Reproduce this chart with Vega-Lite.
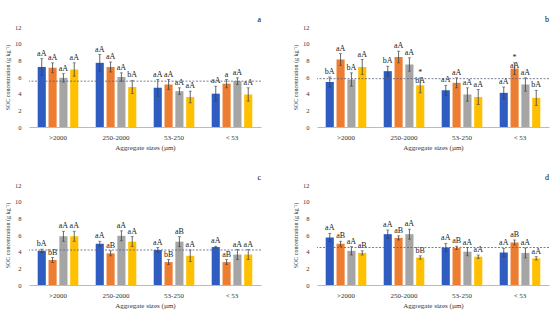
{
  "$schema": "https://vega.github.io/schema/vega-lite/v6.json",
  "background": "white",
  "padding": {"left": 4, "top": 16, "right": 4, "bottom": 2},
  "config": {
    "font": "Liberation Serif",
    "view": {"stroke": null},
    "axis": {"grid": false, "labelFont": "Liberation Serif", "titleFont": "Liberation Serif", "labelColor": "#333", "titleColor": "#333", "titleFontWeight": "normal"},
    "axisY": {"labelOverlap": false, "domain": false, "ticks": false, "labelFontSize": 6.5, "titleFontSize": 6, "labelPadding": 8, "titlePadding": 4}
  },
  "data": {"values": [
    {"p":"a","s":">2000","t":"T1","v":7.2,"lo":6.2,"hi":8.2,"l":"aA","r":5.5},
    {"p":"a","s":">2000","t":"T2","v":7.1,"lo":6.5,"hi":7.7,"l":"aA","r":5.5},
    {"p":"a","s":">2000","t":"T3","v":5.9,"lo":5.4,"hi":6.4,"l":"aA","r":5.5},
    {"p":"a","s":">2000","t":"T4","v":6.9,"lo":6.1,"hi":7.7,"l":"aA","r":5.5},
    {"p":"a","s":"250-2000","t":"T1","v":7.7,"lo":6.7,"hi":8.7,"l":"aA","r":5.5},
    {"p":"a","s":"250-2000","t":"T2","v":7.2,"lo":6.6,"hi":7.8,"l":"aA","r":5.5},
    {"p":"a","s":"250-2000","t":"T3","v":6.0,"lo":5.5,"hi":6.5,"l":"aA","r":5.5},
    {"p":"a","s":"250-2000","t":"T4","v":4.8,"lo":4.0,"hi":5.6,"l":"bA","r":5.5},
    {"p":"a","s":"53-250","t":"T1","v":4.7,"lo":3.7,"hi":5.7,"l":"aA","r":5.5},
    {"p":"a","s":"53-250","t":"T2","v":5.1,"lo":4.5,"hi":5.7,"l":"aA","r":5.5},
    {"p":"a","s":"53-250","t":"T3","v":4.3,"lo":3.9,"hi":4.7,"l":"aA","r":5.5},
    {"p":"a","s":"53-250","t":"T4","v":3.6,"lo":2.9,"hi":4.3,"l":"aA","r":5.5},
    {"p":"a","s":"< 53","t":"T1","v":4.0,"lo":3.1,"hi":4.9,"l":"aA","r":5.5},
    {"p":"a","s":"< 53","t":"T2","v":5.2,"lo":4.7,"hi":5.7,"l":"a","r":5.5},
    {"p":"a","s":"< 53","t":"T3","v":5.5,"lo":5.1,"hi":5.9,"l":"aA","r":5.5},
    {"p":"a","s":"< 53","t":"T4","v":3.9,"lo":3.1,"hi":4.7,"l":"aA","r":5.5},
    {"p":"b","s":">2000","t":"T1","v":5.4,"lo":4.8,"hi":6.0,"l":"bA","r":5.8},
    {"p":"b","s":">2000","t":"T2","v":8.1,"lo":7.4,"hi":8.8,"l":"aA","r":5.8},
    {"p":"b","s":">2000","t":"T3","v":5.7,"lo":4.9,"hi":6.5,"l":"bA","r":5.8},
    {"p":"b","s":">2000","t":"T4","v":7.2,"lo":6.3,"hi":8.1,"l":"aA","r":5.8},
    {"p":"b","s":"250-2000","t":"T1","v":6.7,"lo":6.1,"hi":7.3,"l":"bA","r":5.8},
    {"p":"b","s":"250-2000","t":"T2","v":8.4,"lo":7.7,"hi":9.1,"l":"aA","r":5.8},
    {"p":"b","s":"250-2000","t":"T3","v":7.5,"lo":6.7,"hi":8.3,"l":"aA","r":5.8},
    {"p":"b","s":"250-2000","t":"T4","v":5.0,"lo":4.1,"hi":5.9,"l":"*\nbA","r":5.8},
    {"p":"b","s":"53-250","t":"T1","v":4.4,"lo":3.8,"hi":5.0,"l":"aA","r":5.8},
    {"p":"b","s":"53-250","t":"T2","v":5.3,"lo":4.7,"hi":5.9,"l":"aA","r":5.8},
    {"p":"b","s":"53-250","t":"T3","v":3.9,"lo":3.1,"hi":4.7,"l":"aA","r":5.8},
    {"p":"b","s":"53-250","t":"T4","v":3.6,"lo":2.7,"hi":4.5,"l":"aA","r":5.8},
    {"p":"b","s":"< 53","t":"T1","v":4.1,"lo":3.4,"hi":4.8,"l":"aA","r":5.8},
    {"p":"b","s":"< 53","t":"T2","v":7.0,"lo":6.3,"hi":7.7,"l":"*\naA","r":5.8},
    {"p":"b","s":"< 53","t":"T3","v":5.1,"lo":4.3,"hi":5.9,"l":"aA","r":5.8},
    {"p":"b","s":"< 53","t":"T4","v":3.5,"lo":2.6,"hi":4.4,"l":"bA","r":5.8},
    {"p":"c","s":">2000","t":"T1","v":4.1,"lo":3.9,"hi":4.3,"l":"bA","r":4.2},
    {"p":"c","s":">2000","t":"T2","v":3.0,"lo":2.7,"hi":3.3,"l":"bB","r":4.2},
    {"p":"c","s":">2000","t":"T3","v":5.85,"lo":5.25,"hi":6.45,"l":"aA","r":4.2},
    {"p":"c","s":">2000","t":"T4","v":5.85,"lo":5.25,"hi":6.45,"l":"aA","r":4.2},
    {"p":"c","s":"250-2000","t":"T1","v":4.95,"lo":4.65,"hi":5.25,"l":"aA","r":4.2},
    {"p":"c","s":"250-2000","t":"T2","v":3.8,"lo":3.5,"hi":4.1,"l":"aB","r":4.2},
    {"p":"c","s":"250-2000","t":"T3","v":5.9,"lo":5.3,"hi":6.5,"l":"aA","r":4.2},
    {"p":"c","s":"250-2000","t":"T4","v":5.2,"lo":4.6,"hi":5.8,"l":"aA","r":4.2},
    {"p":"c","s":"53-250","t":"T1","v":4.2,"lo":3.9,"hi":4.5,"l":"aA","r":4.2},
    {"p":"c","s":"53-250","t":"T2","v":2.75,"lo":2.45,"hi":3.05,"l":"bB","r":4.2},
    {"p":"c","s":"53-250","t":"T3","v":5.2,"lo":4.6,"hi":5.8,"l":"aB","r":4.2},
    {"p":"c","s":"53-250","t":"T4","v":3.5,"lo":2.8,"hi":4.2,"l":"aA","r":4.2},
    {"p":"c","s":"< 53","t":"T1","v":4.55,"lo":4.45,"hi":4.65,"l":"aA","r":4.2},
    {"p":"c","s":"< 53","t":"T2","v":2.75,"lo":2.45,"hi":3.05,"l":"aB","r":4.2},
    {"p":"c","s":"< 53","t":"T3","v":3.65,"lo":3.05,"hi":4.25,"l":"aA","r":4.2},
    {"p":"c","s":"< 53","t":"T4","v":3.65,"lo":3.05,"hi":4.25,"l":"aA","r":4.2},
    {"p":"d","s":">2000","t":"T1","v":5.7,"lo":5.2,"hi":6.2,"l":"aA","r":4.5},
    {"p":"d","s":">2000","t":"T2","v":4.95,"lo":4.65,"hi":5.25,"l":"aB","r":4.5},
    {"p":"d","s":">2000","t":"T3","v":4.1,"lo":3.6,"hi":4.6,"l":"aA","r":4.5},
    {"p":"d","s":">2000","t":"T4","v":3.85,"lo":3.6,"hi":4.1,"l":"aB","r":4.5},
    {"p":"d","s":"250-2000","t":"T1","v":6.1,"lo":5.6,"hi":6.6,"l":"aA","r":4.5},
    {"p":"d","s":"250-2000","t":"T2","v":5.65,"lo":5.4,"hi":5.9,"l":"aB","r":4.5},
    {"p":"d","s":"250-2000","t":"T3","v":6.1,"lo":5.5,"hi":6.7,"l":"aA","r":4.5},
    {"p":"d","s":"250-2000","t":"T4","v":3.3,"lo":3.1,"hi":3.5,"l":"bB","r":4.5},
    {"p":"d","s":"53-250","t":"T1","v":4.5,"lo":4.0,"hi":5.0,"l":"aA","r":4.5},
    {"p":"d","s":"53-250","t":"T2","v":4.45,"lo":4.25,"hi":4.65,"l":"aB","r":4.5},
    {"p":"d","s":"53-250","t":"T3","v":4.0,"lo":3.5,"hi":4.5,"l":"aA","r":4.5},
    {"p":"d","s":"53-250","t":"T4","v":3.4,"lo":3.2,"hi":3.6,"l":"aA","r":4.5},
    {"p":"d","s":"< 53","t":"T1","v":3.9,"lo":3.4,"hi":4.4,"l":"aA","r":4.5},
    {"p":"d","s":"< 53","t":"T2","v":5.1,"lo":4.8,"hi":5.4,"l":"aB","r":4.5},
    {"p":"d","s":"< 53","t":"T3","v":3.85,"lo":3.25,"hi":4.45,"l":"aA","r":4.5},
    {"p":"d","s":"< 53","t":"T4","v":3.2,"lo":3.0,"hi":3.4,"l":"aA","r":4.5}
  ]},
  "facet": {"field": "p", "type": "nominal", "header": {"title": null, "labelOrient": "top", "labelAnchor": "end", "labelFont": "Liberation Serif", "labelFontSize": 8, "labelPadding": 0}},
  "columns": 2,
  "spacing": {"row": 24, "column": 30},
  "resolve": {"axis": {"x": "independent", "y": "independent"}},
  "spec": {
    "width": 232,
    "height": 100,
    "encoding": {
      "x": {"field": "s", "type": "nominal", "sort": [">2000", "250-2000", "53-250", "< 53"],
            "scale": {"paddingInner": 0.3, "paddingOuter": 0.15},
            "axis": {"title": "Aggregate sizes (µm)", "labelAngle": 0, "ticks": false, "domainColor": "#bbb", "labelFontSize": 7, "titleFontSize": 7, "labelPadding": 6, "titlePadding": 3}},
      "xOffset": {"field": "t", "type": "nominal", "scale": {"paddingInner": 0.25, "paddingOuter": 0}}
    },
    "layer": [
      {
        "mark": {"type": "bar"},
        "encoding": {
          "y": {"field": "v", "type": "quantitative", "scale": {"domain": [0, 12], "nice": false},
                "axis": {"title": "SOC concentration (g kg⁻¹)", "values": [0, 2, 4, 6, 8, 10, 12], "tickCount": 12}},
          "color": {"field": "t", "type": "nominal", "legend": null,
                    "scale": {"domain": ["T1", "T2", "T3", "T4"], "range": ["#2E5CC0", "#ED7D31", "#A5A5A5", "#FFC000"]}}
        }
      },
      {
        "mark": {"type": "rule", "color": "#404040", "strokeWidth": 0.8},
        "encoding": {"y": {"field": "lo", "type": "quantitative", "axis": {"title": "SOC concentration (g kg⁻¹)", "values": [0, 2, 4, 6, 8, 10, 12], "tickCount": 12}}, "y2": {"field": "hi"}}
      },
      {
        "mark": {"type": "tick", "color": "#404040", "size": 3, "thickness": 0.8},
        "encoding": {"y": {"field": "lo", "type": "quantitative", "axis": {"title": "SOC concentration (g kg⁻¹)", "values": [0, 2, 4, 6, 8, 10, 12], "tickCount": 12}}}
      },
      {
        "mark": {"type": "tick", "color": "#404040", "size": 3, "thickness": 0.8},
        "encoding": {"y": {"field": "hi", "type": "quantitative", "axis": {"title": "SOC concentration (g kg⁻¹)", "values": [0, 2, 4, 6, 8, 10, 12], "tickCount": 12}}}
      },
      {
        "mark": {"type": "text", "baseline": "bottom", "dy": -1, "fontSize": 8, "color": "#222", "lineBreak": "\n", "lineHeight": 8},
        "encoding": {"y": {"field": "hi", "type": "quantitative", "axis": {"title": "SOC concentration (g kg⁻¹)", "values": [0, 2, 4, 6, 8, 10, 12], "tickCount": 12}}, "text": {"field": "l"}}
      },
      {
        "mark": {"type": "rule", "strokeDash": [2, 1.5], "color": "#55607a", "strokeWidth": 0.8},
        "encoding": {"y": {"aggregate": "max", "field": "r", "type": "quantitative", "axis": {"title": "SOC concentration (g kg⁻¹)", "values": [0, 2, 4, 6, 8, 10, 12], "tickCount": 12}}, "xOffset": null, "x": null}
      }
    ]
  }
}
